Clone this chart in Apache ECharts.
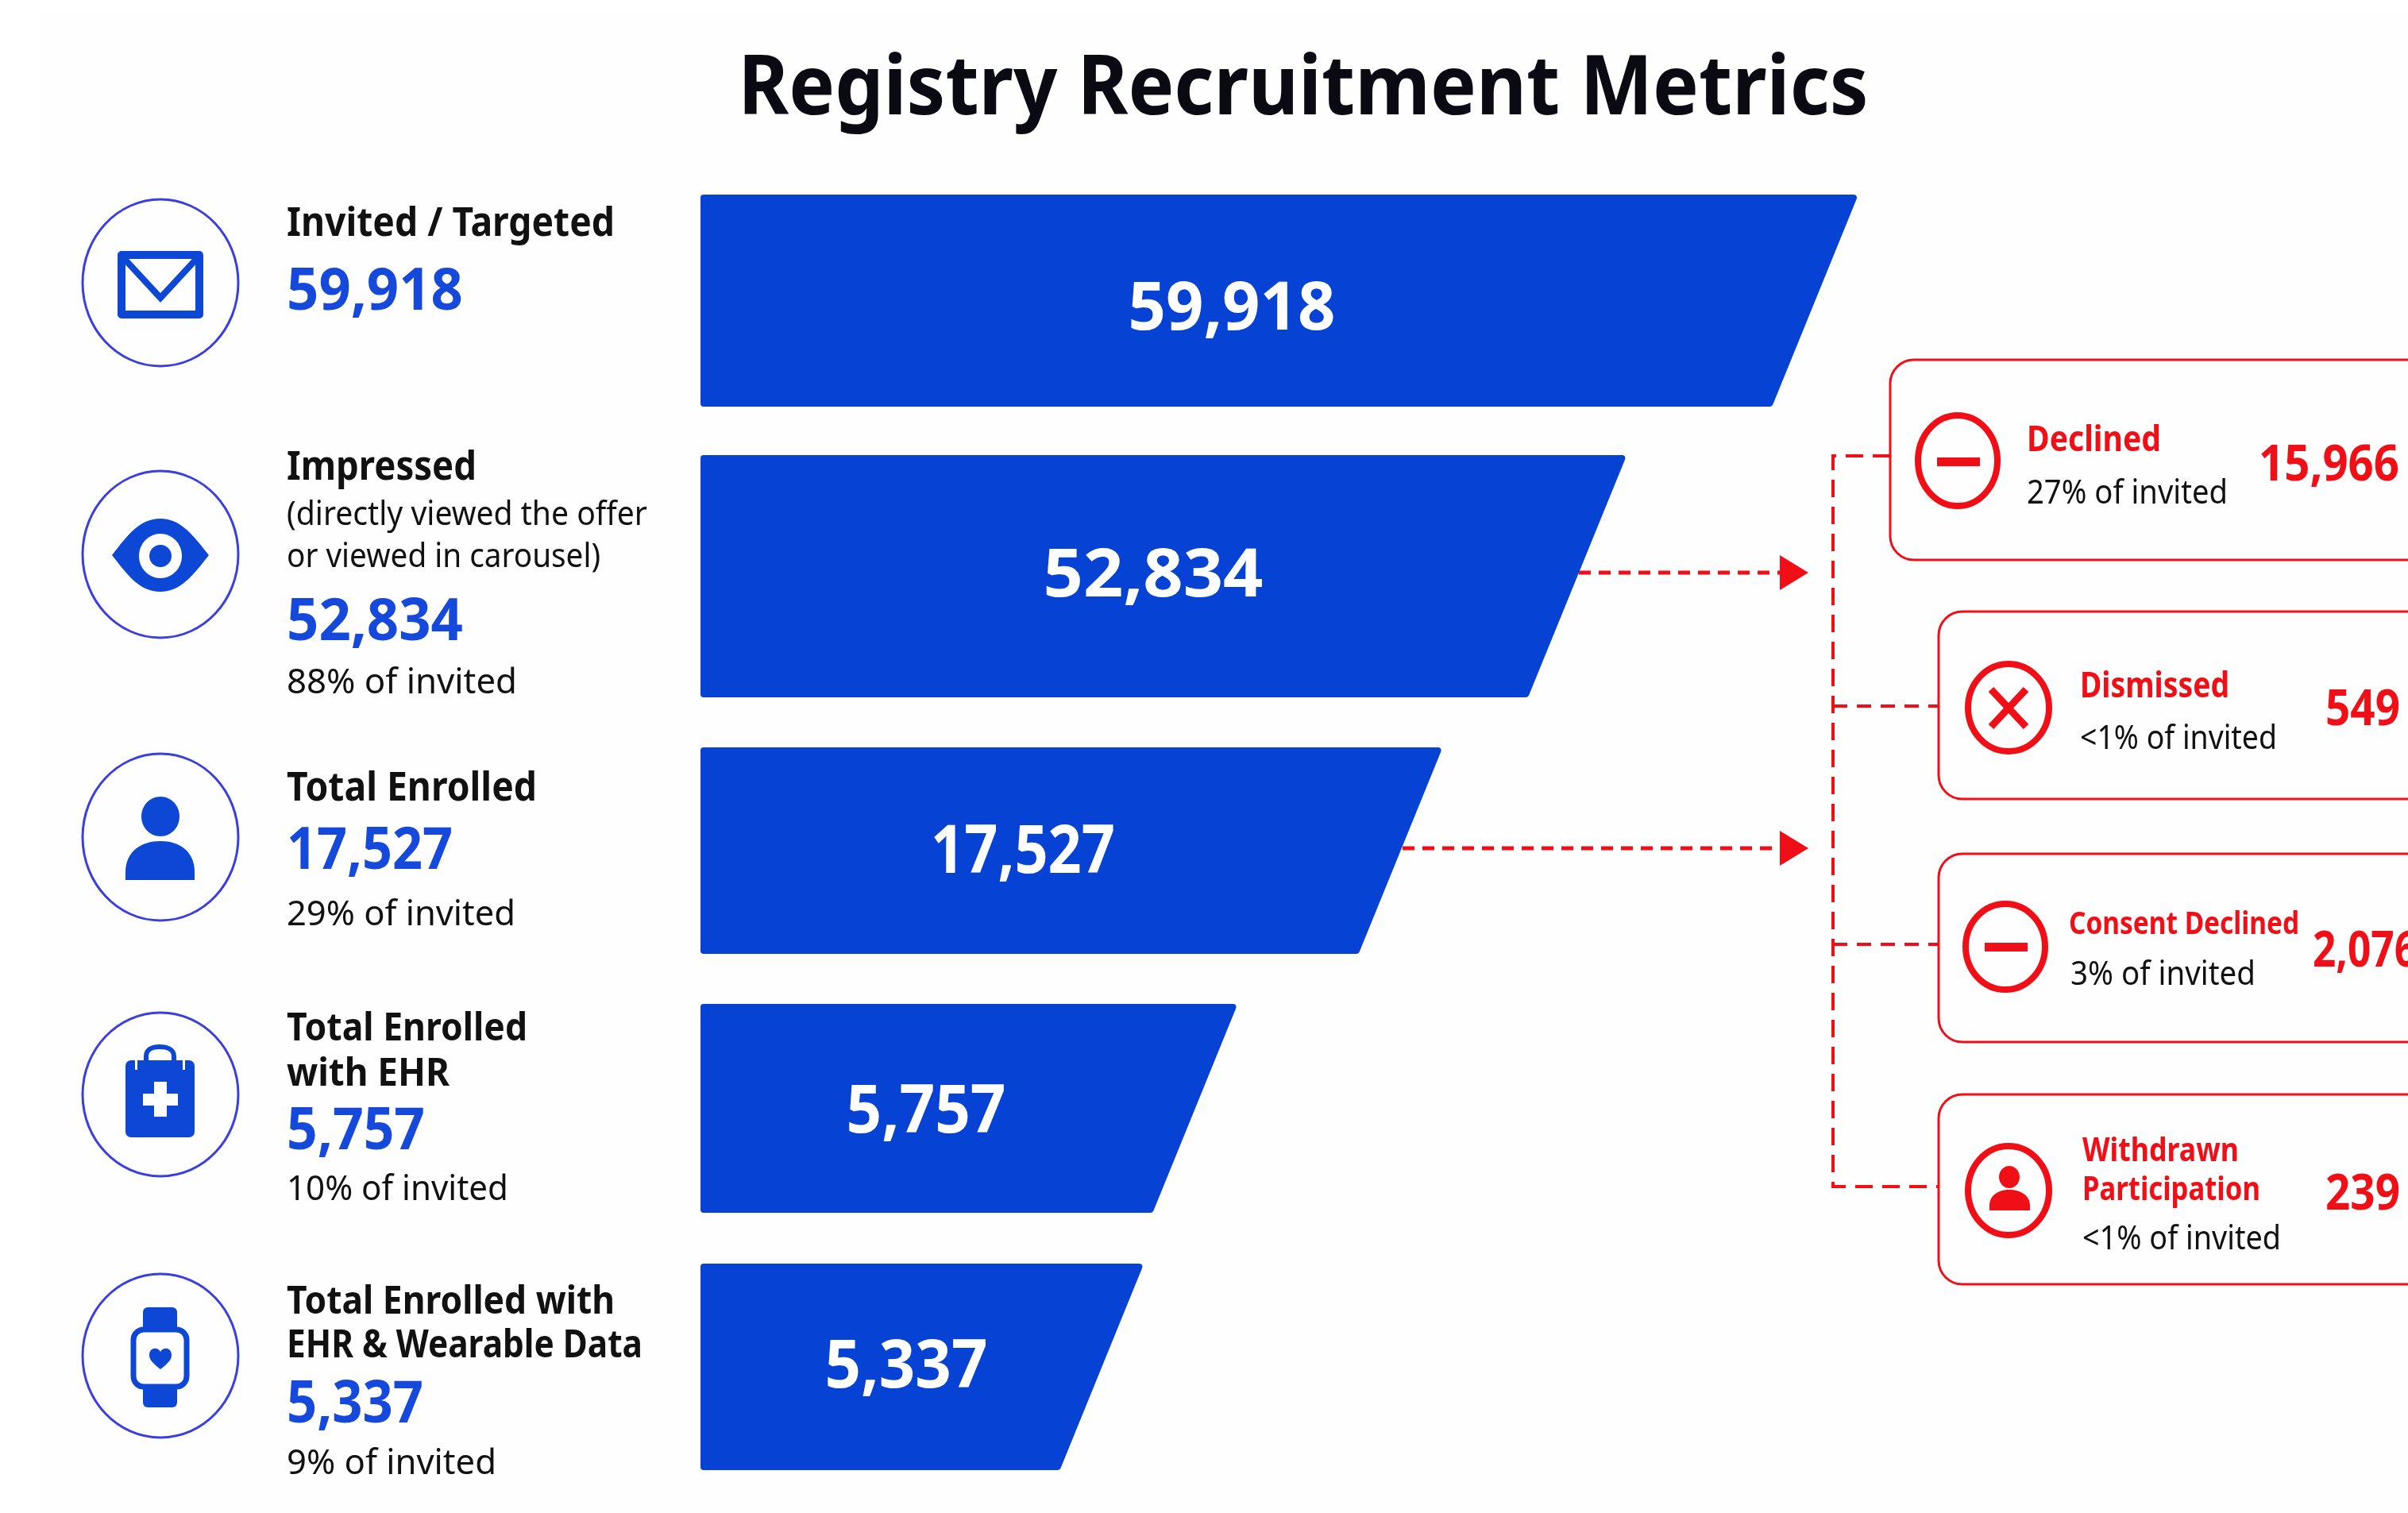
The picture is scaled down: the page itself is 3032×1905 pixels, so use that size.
<!DOCTYPE html>
<html>
<head>
<meta charset="utf-8">
<title>Registry Recruitment Metrics</title>
<style>
  html, body { margin: 0; padding: 0; background: #fff; }
  #chart { width: 3032px; height: 1905px; }
</style>
<script src="https://cdn.jsdelivr.net/npm/echarts@6/dist/echarts.min.js"></script>
</head>
<body>
<div id="chart"></div>
<script>
// data
var stages = ['Invited / Targeted', 'Impressed', 'Total Enrolled', 'Total Enrolled with EHR', 'Total Enrolled with EHR & Wearable Data'];
var stageValues = [59918, 52834, 17527, 5757, 5337];
var stageShares = [null, 88, 29, 10, 9];
// the funnel is not to scale: drawn length of each bar, as % of the top bar
var drawnLength = [100, 80, 64.1, 46.4, 38.3];

var exitNames = ['Declined', 'Dismissed', 'Consent Declined', 'Withdrawn Participation'];
var exitValues = [15966, 549, 2076, 239];
var exitShares = ['27%', '<1%', '3%', '<1%'];

var BAR_BLUE = '#0642d4', BLUE = '#0c47d6', TEXT_BLUE = '#1549dc', RING = '#3a3fe0', RED = '#f00f16', INK = '#111';
var PANEL = '#fefefe';
var FONT = '"Noto Sans"';

// layout of the rows, in page pixels
var rowTop = [245, 573, 941, 1264, 1591];
var rowHeight = [267, 305, 260, 263, 260];
var barLeft = 882, barWidth = 1458;
var barLabelX = [1551, 1452, 1288, 1166, 1141];
var barLabelY = [391, 727, 1075, 1402, 1723];
var barLabelW = [261, 277, 232, 201, 205];

var ctx = document.createElement('canvas').getContext('2d');
function fontOf(size, weight) { return weight + ' ' + size + 'px ' + FONT; }
function fitScale(str, font, w) {
    ctx.font = font;
    return w / ctx.measureText(str).width;
}
function label(str, x, y, w, size, weight, color, align) {
    var font = fontOf(size, weight);
    return {
        type: 'text', x: x, y: y, scaleX: fitScale(str, font, w), z: 10, silent: true,
        style: { text: str, font: font, fill: color, align: align || 'left', verticalAlign: 'middle' }
    };
}
function fmt(n) { return n.toLocaleString('en-US'); }

var g = [];
var shapeCount = 0;
// the graphic component has no plain path type, so each icon outline gets registered
function pathEl(d, style) {
    var name = 'iconShape' + (shapeCount++);
    echarts.graphic.registerShape(name, echarts.graphic.extendPath(d, {}));
    g.push({ type: name, silent: true, z: 5, style: style });
}

// off-white panel, the page around it is pure white
g.push({ type: 'rect', silent: true, z: -10, shape: { x: 50, y: 17, width: 2982, height: 1888 }, style: { fill: PANEL } });

// title
g.push(label('Registry Recruitment Metrics', 1641, 114, 1423, 104, 700, '#0a0a12', 'center'));

// left column text
var TX = 361;
g.push(label(stages[0], TX, 283, 413, 50, 700, INK));
g.push(label(fmt(stageValues[0]), TX, 369, 222, 74, 700, TEXT_BLUE));

g.push(label(stages[1], TX, 590, 239, 50, 700, INK));
g.push(label('(directly viewed the offer', TX, 649, 454, 42, 400, INK));
g.push(label('or viewed in carousel)', TX, 702, 395, 42, 400, INK));
g.push(label(fmt(stageValues[1]), TX, 785, 222, 74, 700, TEXT_BLUE));
g.push(label(stageShares[1] + '% of invited', TX, 860, 290, 44, 400, INK));

g.push(label(stages[2], TX, 994, 315, 50, 700, INK));
g.push(label(fmt(stageValues[2]), TX, 1073, 209, 74, 700, TEXT_BLUE));
g.push(label(stageShares[2] + '% of invited', TX, 1152, 288, 44, 400, INK));

g.push(label('Total Enrolled', TX, 1296, 303, 48, 700, INK));
g.push(label('with EHR', TX, 1353, 205, 48, 700, INK));
g.push(label(fmt(stageValues[3]), TX, 1426, 174, 74, 700, TEXT_BLUE));
g.push(label(stageShares[3] + '% of invited', TX, 1498, 279, 44, 400, INK));

g.push(label('Total Enrolled with', TX, 1640, 413, 48, 700, INK));
g.push(label('EHR & Wearable Data', TX, 1695, 448, 48, 700, INK));
g.push(label(fmt(stageValues[4]), TX, 1770, 172, 74, 700, TEXT_BLUE));
g.push(label(stageShares[4] + '% of invited', TX, 1843, 264, 44, 400, INK));

// left icons: outlined rings
var ringY = [356, 698, 1054, 1378, 1707];
var ringR = [105, 105, 105, 103, 103];
ringY.forEach(function (y, i) {
    g.push({ type: 'ellipse', shape: { cx: 202, cy: y, rx: 98, ry: ringR[i] }, style: { fill: PANEL, stroke: RING, lineWidth: 3 }, silent: true });
});
function blue(el) { el.silent = true; el.z = 5; el.style = el.style || {}; if (!el.style.stroke) el.style.fill = el.style.fill || BLUE; g.push(el); }

// envelope
blue({ type: 'rect', shape: { x: 153, y: 321, width: 98, height: 75 }, style: { fill: 'none', stroke: BLUE, lineWidth: 10, lineJoin: 'round' } });
blue({ type: 'polyline', shape: { points: [[153, 322], [202, 375], [251, 322]] }, style: { fill: 'none', stroke: BLUE, lineWidth: 8 } });
// eye
pathEl('M141 699 C160 675 175 653 202 653 C228 653 244 675 263 699 C244 723 228 745 202 745 C175 745 160 723 141 699 Z', { fill: BLUE });
blue({ type: 'ellipse', shape: { cx: 202, cy: 700, rx: 27, ry: 28 }, style: { fill: PANEL } });
blue({ type: 'ellipse', shape: { cx: 202, cy: 700, rx: 14, ry: 14 } });
// person
blue({ type: 'ellipse', shape: { cx: 202, cy: 1028, rx: 24, ry: 25 } });
pathEl('M158 1108 V1098 C158 1072 178 1059 202 1059 C226 1059 245 1072 245 1098 V1108 Z', { fill: BLUE });
// clipboard with cross
pathEl('M184 1340 V1330 C184 1321 192 1318 201 1318 C210 1318 219 1321 219 1330 V1340', { fill: 'none', stroke: BLUE, lineWidth: 6 });
blue({ type: 'rect', shape: { x: 158, y: 1335, width: 87, height: 97, r: 7 } });
blue({ type: 'rect', shape: { x: 180, y: 1377, width: 44, height: 15 }, style: { fill: PANEL } });
blue({ type: 'rect', shape: { x: 194, y: 1362, width: 16, height: 44 }, style: { fill: PANEL } });
blue({ type: 'rect', shape: { x: 170, y: 1335, width: 3, height: 12 }, style: { fill: PANEL } });
blue({ type: 'rect', shape: { x: 230, y: 1335, width: 3, height: 12 }, style: { fill: PANEL } });
// watch
blue({ type: 'rect', shape: { x: 180, y: 1646, width: 43, height: 126, r: 6 } });
blue({ type: 'rect', shape: { x: 168, y: 1674, width: 67, height: 72, r: 13 }, style: { fill: PANEL, stroke: BLUE, lineWidth: 7 } });
pathEl('M202 1724 C192 1716 188 1712 188 1706 C188 1697 198 1695 202 1702 C206 1695 216 1697 216 1706 C216 1712 212 1716 202 1724 Z', { fill: BLUE });

// right boxes
var boxes = [
    { x: 2380, top: 453, bottom: 705 },
    { x: 2441, top: 770, bottom: 1006 },
    { x: 2441, top: 1075, bottom: 1312 },
    { x: 2441, top: 1378, bottom: 1617 }
];
boxes.forEach(function (b) {
    g.push({ type: 'rect', silent: true, shape: { x: b.x, y: b.top, width: 3100 - b.x, height: b.bottom - b.top, r: 30 }, style: { fill: PANEL, stroke: RED, lineWidth: 3 } });
});
var exitRings = [[2465, 580, 50, 57], [2529, 891, 51, 55], [2525, 1192, 50, 54], [2529, 1499, 51, 56]];
exitRings.forEach(function (r) {
    g.push({ type: 'ellipse', silent: true, z: 5, shape: { cx: r[0], cy: r[1], rx: r[2], ry: r[3] }, style: { fill: 'none', stroke: RED, lineWidth: 8 } });
});
// glyphs inside the red rings
g.push({ type: 'rect', silent: true, z: 5, shape: { x: 2439, y: 576, width: 54, height: 11 }, style: { fill: RED } });
g.push({ type: 'rect', silent: true, z: 5, shape: { x: 2499, y: 1187, width: 54, height: 11 }, style: { fill: RED } });
g.push({ type: 'line', silent: true, z: 5, shape: { x1: 2507, y1: 868, x2: 2551, y2: 915 }, style: { stroke: RED, lineWidth: 9 } });
g.push({ type: 'line', silent: true, z: 5, shape: { x1: 2551, y1: 868, x2: 2507, y2: 915 }, style: { stroke: RED, lineWidth: 9 } });
g.push({ type: 'ellipse', silent: true, z: 5, shape: { cx: 2530, cy: 1482, rx: 13, ry: 14 }, style: { fill: RED } });
pathEl('M2505 1524 V1518 C2505 1505 2516 1498 2530 1498 C2544 1498 2556 1505 2556 1518 V1524 Z', { fill: RED });

// right box text
g.push(label(exitNames[0], 2552, 555, 169, 44, 700, RED));
g.push(label(exitShares[0] + ' of invited', 2552, 622, 253, 42, 400, INK));
g.push(label(fmt(exitValues[0]), 2844, 587, 177, 62, 700, RED));

g.push(label(exitNames[1], 2619, 865, 188, 44, 700, RED));
g.push(label(exitShares[1] + ' of invited', 2619, 931, 248, 42, 400, INK));
g.push(label(fmt(exitValues[1]), 2928, 895, 94, 62, 700, RED));

g.push(label(exitNames[2], 2605, 1165, 290, 40, 700, RED));
g.push(label(exitShares[2] + ' of invited', 2607, 1228, 233, 42, 400, INK));
g.push(label(fmt(exitValues[2]), 2912, 1199, 132, 62, 700, RED));

g.push(label('Withdrawn', 2622, 1450, 197, 42, 700, RED));
g.push(label('Participation', 2622, 1499, 224, 42, 700, RED));
g.push(label(exitShares[3] + ' of invited', 2622, 1561, 250, 42, 400, INK));
g.push(label(fmt(exitValues[3]), 2928, 1505, 94, 62, 700, RED));

// connectors
function dashed(points, width, dash) {
    g.push({ type: 'polyline', silent: true, shape: { points: points }, style: { fill: 'none', stroke: RED, lineWidth: width, lineDash: dash } });
}
dashed([[2380, 574], [2308, 574], [2308, 1494], [2441, 1494]], 4, [22, 12]);
dashed([[2308, 889], [2441, 889]], 4, [18, 12]);
dashed([[2308, 1189], [2441, 1189]], 4, [18, 12]);
dashed([[1988, 721], [2245, 721]], 5, [15, 10]);
dashed([[1766, 1068], [2245, 1068]], 5, [15, 10]);
[721, 1068].forEach(function (y) {
    g.push({ type: 'polygon', silent: true, shape: { points: [[2241, y - 22], [2277, y], [2241, y + 22]] }, style: { fill: RED } });
});

// one grid per row, the rows are not evenly spaced in the picture
var grids = [], xAxes = [], yAxes = [], series = [];
stages.forEach(function (name, i) {
    grids.push({ left: barLeft, width: barWidth, top: rowTop[i], height: rowHeight[i] });
    xAxes.push({ type: 'value', gridIndex: i, min: 0, max: 100, show: false });
    yAxes.push({ type: 'category', gridIndex: i, data: [name], show: false });
    series.push({
        type: 'custom',
        name: name,
        xAxisIndex: i,
        yAxisIndex: i,
        clip: false,
        silent: true,
        data: [[drawnLength[i], name, stageValues[i]]],
        encode: { x: 0, y: 1 },
        renderItem: function (params, api) {
            var end = api.coord([api.value(0), 0]);
            var start = api.coord([0, 0]);
            var h = api.size([0, 1])[1];
            var inset = 4;
            var top = end[1] - h / 2 + inset, bottom = end[1] + h / 2 - inset;
            var slant = 0.41 * h;
            var font = fontOf(84, 700);
            var txt = fmt(api.value(2));
            return {
                type: 'group',
                children: [{
                    type: 'polygon',
                    shape: { points: [[start[0] + inset, top], [end[0] - inset - 2, top], [end[0] - slant - inset + 2, bottom], [start[0] + inset, bottom]] },
                    style: { fill: BAR_BLUE, stroke: BAR_BLUE, lineWidth: inset * 2, lineJoin: 'round' }
                }, {
                    type: 'text',
                    x: barLabelX[i],
                    y: barLabelY[i],
                    scaleX: fitScale(txt, font, barLabelW[i]),
                    style: { text: txt, font: font, fill: '#fff', align: 'center', verticalAlign: 'middle' }
                }]
            };
        }
    });
});

var chart = echarts.init(document.getElementById('chart'), null, { renderer: 'canvas' });
chart.setOption({
    backgroundColor: '#fff',
    animation: false,
    grid: grids,
    xAxis: xAxes,
    yAxis: yAxes,
    series: series,
    graphic: { elements: g }
});
window.addEventListener('resize', function () { chart.resize(); });
</script>
</body>
</html>
